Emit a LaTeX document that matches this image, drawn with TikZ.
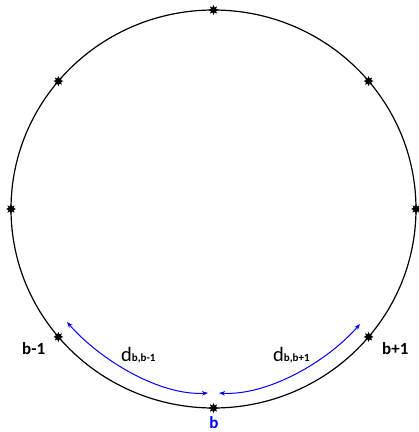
\documentclass[tikz,border=0pt]{standalone}
\usepackage{fontspec}
\setmainfont{Carlito}
\usetikzlibrary{shapes.geometric,arrows.meta,calc}
\tikzset{
  mark8/.style={star, star points=8, star point ratio=1.8, fill=black, draw=none, minimum size=10pt, inner sep=0pt},
  lbl/.style={inner sep=0pt, anchor=base west, font=\fontsize{17}{17}\selectfont\bfseries},
  dist/.style={blue, line width=1pt, {Stealth[length=6pt,width=4.5pt]}-{Stealth[length=6pt,width=4.5pt]}}
}
\begin{document}
\begin{tikzpicture}[x=1pt,y=-1pt]
\useasboundingbox (0,0) rectangle (419,432);
\coordinate (c) at (213.5,209);
\draw[line width=1.2pt] (c) ellipse [x radius=202.5, y radius=199];
\foreach \a/\n in {0/p0,40/p40,90/p90,140/p140,180/p180,220/p220,270/p270,320/p320}{
  \node[mark8] (\n) at ($(c)+({202.5*cos(\a)},{-199*sin(\a)})$) {};
}
\node[lbl] (lm) at (22,354) {b-1};
\node[lbl] (lp) at (382,354) {b+1};
\node[lbl, anchor=base, text=blue] (lb) at (214,428) {b};
\node[inner sep=0pt, anchor=base west] (dl) at (121,361) {{\fontsize{20.5}{18}\selectfont d}{\fontsize{11}{11}\selectfont\bfseries b,b-1}};
\node[inner sep=0pt, anchor=base west] (dr) at (273,361) {{\fontsize{20.5}{18}\selectfont d}{\fontsize{11}{11}\selectfont\bfseries b,b+1}};
\coordinate (a1) at (67,322);
\coordinate (a2) at (208,393);
\coordinate (b1) at (219,393);
\coordinate (b2) at (360,324);
\draw[dist] (a1) .. controls (100,360) and (160,396) .. (a2);
\draw[dist] (b1) .. controls (267,396) and (327,362) .. (b2);
\end{tikzpicture}
\end{document}
